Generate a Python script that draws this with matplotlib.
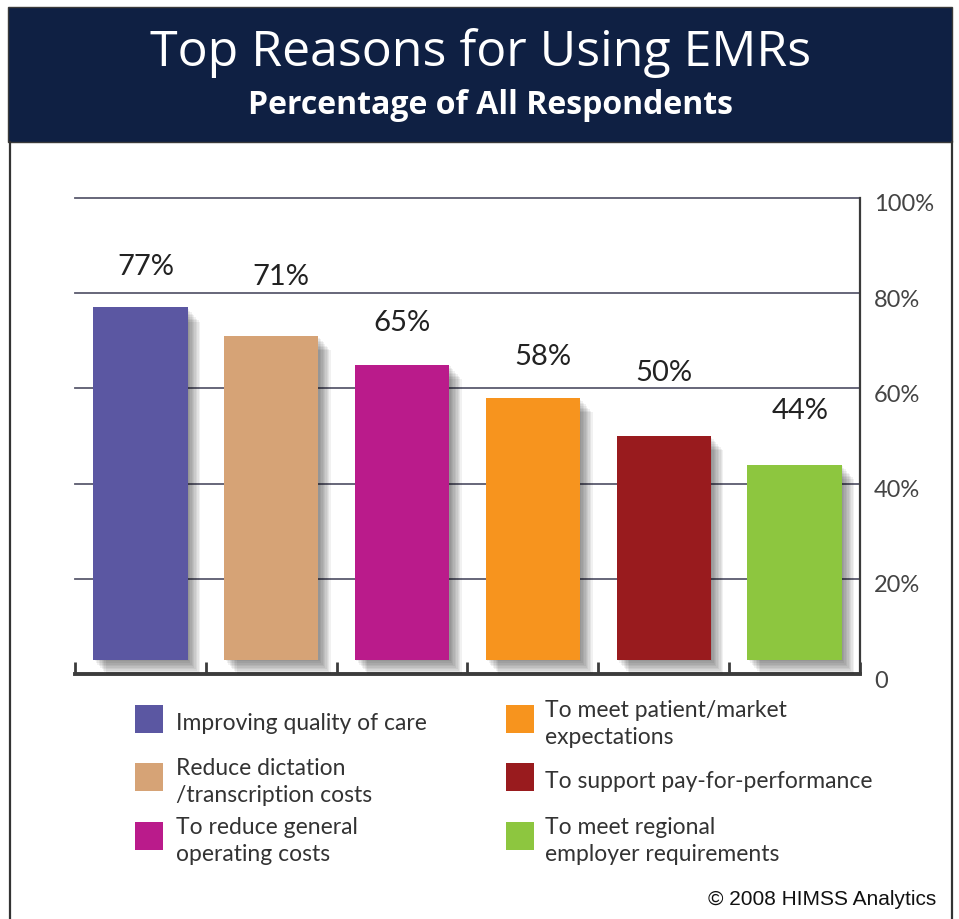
import numpy as np
import matplotlib
matplotlib.use("Agg")
import matplotlib.pyplot as plt
import matplotlib.patheffects as pe
from matplotlib.patches import Rectangle
from matplotlib.lines import Line2D
from matplotlib.transforms import ScaledTranslation

W, H = 959, 920

categories = [
    "Improving quality of care",
    "Reduce dictation\n/transcription costs",
    "To reduce general\noperating costs",
    "To meet patient/market\nexpectations",
    "To support pay-for-performance",
    "To meet regional\nemployer requirements",
]
values = [77, 71, 65, 58, 50, 44]
colors = ["#5b57a2", "#d6a376", "#ba1b8b", "#f7941e", "#991b1e", "#8dc63f"]
y_ticks = [0, 20, 40, 60, 80, 100]
y_tick_labels = ["0", "20%", "40%", "60%", "80%", "100%"]

FLOOR = 3  # bars float a little above the base line
LABEL_DY = [8.7, 12.6, 8.9, 8.8, 13.4, 11.5]  # value label lift, in axis units
LABEL_DX = [0.04, 0.07, 0.0, 0.08, 0.0, 0.04]
TEXT_FONT = ["Lato", "DejaVu Sans"]


def fx(x):
    return x / W


def fy(y):
    return 1 - y / H


fig = plt.figure(figsize=(W / 100, H / 100), dpi=100)
fig.patch.set_facecolor("white")

# header band and page frame
fig.add_artist(Rectangle((fx(8), fy(143)), fx(952) - fx(8), fy(8) - fy(143),
                         transform=fig.transFigure, facecolor="#0f2043",
                         edgecolor="#3a3a3a", lw=1))
for x in (9.5, 952):
    fig.add_artist(Line2D([fx(x), fx(x)], [fy(143), 0], transform=fig.transFigure,
                          color="#333333", lw=1.6))

fig.text(fx(481), fy(53), "Top Reasons for Using EMRs", ha="center", va="center",
         fontsize=36, color="white", family=["Open Sans", "DejaVu Sans"])
fig.text(fx(490), fy(106), "Percentage of All Respondents", ha="center", va="center",
         fontsize=23, color="white", weight="bold", family=["Open Sans", "DejaVu Sans"])

ax = fig.add_axes([fx(75), fy(675), fx(860) - fx(75), fy(199) - fy(675)])
ax.set_xlim(-0.5, 5.5)
ax.set_ylim(0, 100)
ax.set_facecolor("none")

for t in y_ticks[1:]:
    ax.axhline(t, color="#5a5a6e", lw=1.3, zorder=1, clip_on=False)

for s in ("left", "top"):
    ax.spines[s].set_visible(False)
ax.spines["right"].set_color("#3a3a3a")
ax.spines["right"].set_linewidth(1.6)
ax.spines["bottom"].set_color("#3c3c3c")
ax.spines["bottom"].set_linewidth(2.8)

x = np.arange(len(values))
bars = ax.bar(x, [v - FLOOR for v in values], bottom=FLOOR, width=0.72,
              color=colors, zorder=3)

shadow = [pe.SimplePatchShadow(offset=(k, -1.15 * k), shadow_rgbFace="black", alpha=0.055)
          for k in range(1, 10)]
for b in bars:
    b.set_path_effects(shadow + [pe.Normal()])

for xi, v, dx, dy in zip(x, values, LABEL_DX, LABEL_DY):
    ax.text(xi + dx, v + dy, f"{v}%", ha="center", va="center", fontsize=21,
            color="#222222", family=TEXT_FONT, zorder=4)

ax.set_xticks([])
ax.set_xticks(np.arange(-0.5, 6), minor=True)
ax.tick_params(axis="x", which="minor", direction="in", length=9, width=2,
               color="#3c3c3c", labelbottom=False)

ax.yaxis.tick_right()
ax.set_yticks(y_ticks, y_tick_labels)
ax.tick_params(axis="y", length=0, pad=10, labelsize=17, labelcolor="#444444")
shift = ScaledTranslation(0, -4 / 100, fig.dpi_scale_trans)
for lbl in ax.get_yticklabels():
    lbl.set_fontfamily(TEXT_FONT)
    lbl.set_transform(lbl.get_transform() + shift)

# legend drawn by hand in two columns
row_tops = [706, 764, 823]
box_x = [135, 506]
text_x = [176, 545]
for i, (label, c) in enumerate(zip(categories, colors)):
    col, row = i // 3, i % 3
    top = row_tops[row]
    fig.add_artist(Rectangle((fx(box_x[col]), fy(top + 28)), 28 / W, 28 / H,
                             transform=fig.transFigure, facecolor=c, edgecolor="none"))
    fig.text(fx(text_x[col]), fy(top + 18), label, ha="left", va="center",
             fontsize=16.5, color="#333333", linespacing=1.38, family=TEXT_FONT)

fig.text(fx(936), fy(900), "\u00a9 2008 HIMSS Analytics", ha="right", va="center",
         fontsize=15, color="#111111", family=["Liberation Sans", "DejaVu Sans"])

fig.savefig("out.png", dpi=100)
